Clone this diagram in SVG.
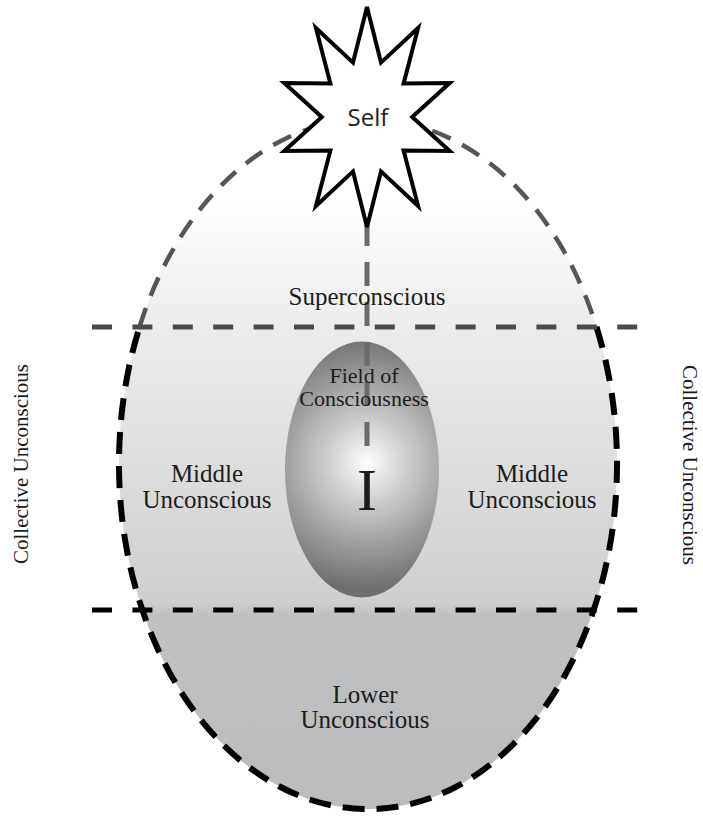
<svg xmlns="http://www.w3.org/2000/svg" width="703" height="817" viewBox="0 0 703 817">
  <style>
    .serif { font-family: "Liberation Serif", "Times New Roman", serif; fill: #1c1c1c; text-anchor: middle; }
    .lbl { font-size: 25px; }
    .side { font-size: 21px; }
    .divider { fill: none; stroke-width: 5; stroke-dasharray: 20 20.4; }
  </style>
  <defs>
    <linearGradient id="outerFill" x1="0" y1="119" x2="0" y2="809" gradientUnits="userSpaceOnUse">
      <stop offset="0" stop-color="#ffffff"/>
      <stop offset="0.12" stop-color="#ffffff"/>
      <stop offset="0.3" stop-color="#ececec"/>
      <stop offset="0.7" stop-color="#cfcfcf"/>
      <stop offset="0.72" stop-color="#bfc0c1"/>
      <stop offset="1" stop-color="#bbbcbd"/>
    </linearGradient>
    <radialGradient id="innerFill" cx="367" cy="462" r="128" gradientUnits="userSpaceOnUse">
      <stop offset="0" stop-color="#ffffff"/>
      <stop offset="0.15" stop-color="#e6e6e6"/>
      <stop offset="0.5" stop-color="#b3b3b3"/>
      <stop offset="0.8" stop-color="#898989"/>
      <stop offset="1" stop-color="#6e6e6e"/>
    </radialGradient>
  </defs>

  <g id="psyche">
    <ellipse cx="368" cy="464" rx="249" ry="345" fill="url(#outerFill)"/>
    <path d="M 139.5 327 A 249 345 0 0 1 596.5 327" fill="none" stroke="#555555" stroke-width="4.5" stroke-dasharray="20 13"/>
    <path d="M 596.5 327 A 249 345 0 1 1 139.5 327" fill="none" stroke="#000000" stroke-width="6" stroke-dasharray="22 12"/>
  </g>

  <g id="dividers">
    <line class="divider" x1="92" y1="327" x2="638" y2="327" stroke="#4a4a4a"/>
    <line class="divider" x1="92" y1="610" x2="638" y2="610" stroke="#000000" stroke-width="6"/>
  </g>

  <g id="field-of-consciousness">
    <ellipse cx="362" cy="469.5" rx="77" ry="128" fill="url(#innerFill)"/>
  </g>

  <g id="connectors">
    <line x1="367" y1="222" x2="367" y2="446" stroke="#6b6b6b" stroke-width="5" stroke-dasharray="24 16"/>
  </g>

  <g id="self">
    <polygon points="367,7 381,62.6 418.1,28 403.6,83.4 449.7,83 412.2,117 449.7,151 403.6,150.6 418.1,206 381,171.4 367,227 353,171.4 315.9,206 330.4,150.6 284.3,151 321.8,117 284.3,83 330.4,83.4 315.9,28 353,62.6" fill="#ffffff" stroke="#000000" stroke-width="4" stroke-linejoin="miter"/>
    <text x="368" y="126" font-family="'Open Sans', 'Noto Sans', sans-serif" font-size="24" fill="#222222" text-anchor="middle">Self</text>
  </g>

  <g id="superconscious">
    <text class="serif lbl" x="367" y="305">Superconscious</text>
  </g>

  <g id="field-label">
    <text class="serif" font-size="22" x="364" y="383">Field of</text>
    <text class="serif" font-size="22" x="364" y="406">Consciousness</text>
    <text class="serif" font-size="60" x="367" y="510" fill="#111111">I</text>
  </g>

  <g id="middle-left">
    <text class="serif lbl" x="207" y="482">Middle</text>
    <text class="serif lbl" x="207" y="508">Unconscious</text>
  </g>

  <g id="middle-right">
    <text class="serif lbl" x="532" y="482">Middle</text>
    <text class="serif lbl" x="532" y="508">Unconscious</text>
  </g>

  <g id="lower">
    <text class="serif lbl" x="365" y="703">Lower</text>
    <text class="serif lbl" x="365" y="728">Unconscious</text>
  </g>

  <g id="collective-left">
    <text class="serif side" transform="translate(28 464) rotate(-90)" x="0" y="0">Collective Unconscious</text>
  </g>

  <g id="collective-right">
    <text class="serif side" transform="translate(683 465) rotate(90)" x="0" y="0">Collective Unconscious</text>
  </g>
</svg>
